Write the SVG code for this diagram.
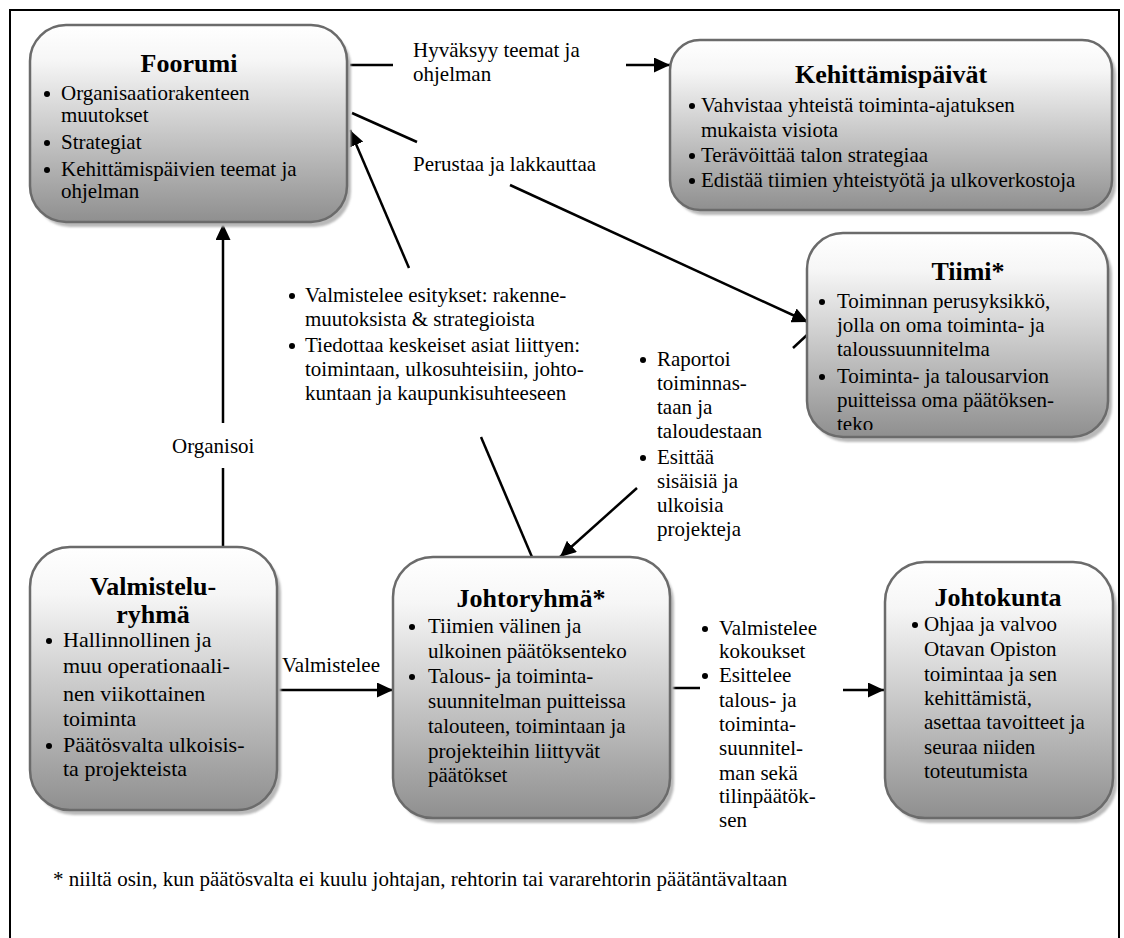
<svg xmlns="http://www.w3.org/2000/svg" width="1124" height="938" viewBox="0 0 1124 938">
  <style>
    text { font-family: "Liberation Serif", "Times New Roman", serif; fill: #000; }
    .title { font-size: 26px; font-weight: bold; text-anchor: middle; }
    .t { font-size: 21px; }
    .box { fill: url(#boxFill); stroke: #6b6b6b; stroke-width: 2.5; }
    .shadow { fill: #b9b9b9; filter: url(#soft); }
    .dot { fill: #000; }
    .conn { stroke: #000; stroke-width: 2.5; fill: none; }
    .arrow { marker-end: url(#head); }
    .frame { stroke: #000; stroke-width: 2; fill: none; }
  </style>
  <defs>
    <linearGradient id="boxFill" x1="0" y1="0" x2="0" y2="1">
      <stop offset="0" stop-color="#ffffff"/>
      <stop offset="0.18" stop-color="#f6f6f6"/>
      <stop offset="1" stop-color="#8f8f8f"/>
    </linearGradient>
    <filter id="soft" x="-5%" y="-5%" width="110%" height="110%">
      <feGaussianBlur stdDeviation="1.2"/>
    </filter>
    <marker id="head" markerUnits="userSpaceOnUse" markerWidth="17" markerHeight="15" refX="16" refY="7.5" orient="auto">
      <path d="M0,0 L16,7.5 L0,15 z" fill="#000"/>
    </marker>
    <clipPath id="tiimiClip">
      <rect x="807" y="233" width="301" height="197"/>
    </clipPath>
  </defs>

  <rect width="1124" height="938" fill="#fff"/>
  <path class="frame" d="M10,938 V10 H1119 V938"/>

  <!-- connectors -->
  <g id="connectors">
    <path class="conn" d="M350,65 H393"/>
    <path class="conn arrow" d="M626,65 H670"/>
    <path class="conn" d="M352,113 L417,142"/>
    <path class="conn arrow" d="M510,185 L808,322"/>
    <path class="conn" d="M807,335 L793,348"/>
    <path class="conn arrow" d="M637,488 L560,557"/>
    <path class="conn" d="M532,557 L481,437"/>
    <path class="conn arrow" d="M409,268 L350,130"/>
    <path class="conn" d="M223,547 V468"/>
    <path class="conn arrow" d="M223,423 V224"/>
    <path class="conn arrow" d="M278,690 H393"/>
    <path class="conn" d="M670,688 H700"/>
    <path class="conn arrow" d="M843,690 H884"/>
  </g>

  <!-- connector labels -->
  <g id="labels">
    <text class="t" x="413" y="57">Hyväksyy teemat ja</text>
    <text class="t" x="413" y="81">ohjelman</text>
    <text class="t" x="413" y="171">Perustaa ja lakkauttaa</text>

    <circle class="dot" cx="292" cy="296" r="3"/>
    <text class="t" x="305" y="302">Valmistelee esitykset: rakenne-</text>
    <text class="t" x="305" y="326">muutoksista &amp; strategioista</text>
    <circle class="dot" cx="292" cy="346" r="3"/>
    <text class="t" x="305" y="352">Tiedottaa keskeiset asiat liittyen:</text>
    <text class="t" x="305" y="376">toimintaan, ulkosuhteisiin, johto-</text>
    <text class="t" x="305" y="400">kuntaan ja kaupunkisuhteeseen</text>

    <circle class="dot" cx="643" cy="360" r="3"/>
    <text class="t" x="657" y="366">Raportoi</text>
    <text class="t" x="657" y="390">toiminnas-</text>
    <text class="t" x="657" y="414">taan ja</text>
    <text class="t" x="657" y="438">taloudestaan</text>
    <circle class="dot" cx="643" cy="458" r="3"/>
    <text class="t" x="657" y="464">Esittää</text>
    <text class="t" x="657" y="488">sisäisiä ja</text>
    <text class="t" x="657" y="512">ulkoisia</text>
    <text class="t" x="657" y="536">projekteja</text>

    <text class="t" x="172" y="453">Organisoi</text>
    <text class="t" x="282" y="672">Valmistelee</text>

    <circle class="dot" cx="705" cy="629" r="3"/>
    <text class="t" x="719" y="635">Valmistelee</text>
    <text class="t" x="719" y="658">kokoukset</text>
    <circle class="dot" cx="705" cy="676" r="3"/>
    <text class="t" x="719" y="682">Esittelee</text>
    <text class="t" x="719" y="707">talous- ja</text>
    <text class="t" x="719" y="731">toiminta-</text>
    <text class="t" x="719" y="755">suunnitel-</text>
    <text class="t" x="719" y="780">man sekä</text>
    <text class="t" x="719" y="803">tilinpäätök-</text>
    <text class="t" x="719" y="827">sen</text>
  </g>

  <!-- Foorumi -->
  <g id="foorumi">
    <rect class="shadow" x="34" y="30" width="317" height="197" rx="36"/>
    <rect class="box" x="30" y="25" width="317" height="197" rx="36"/>
    <text class="title" x="189" y="72">Foorumi</text>
    <circle class="dot" cx="47" cy="94" r="3"/>
    <text class="t" x="61" y="100">Organisaatiorakenteen</text>
    <text class="t" x="61" y="122">muutokset</text>
    <circle class="dot" cx="47" cy="143" r="3"/>
    <text class="t" x="61" y="149">Strategiat</text>
    <circle class="dot" cx="47" cy="170" r="3"/>
    <text class="t" x="61" y="176">Kehittämispäivien teemat ja</text>
    <text class="t" x="61" y="198">ohjelman</text>
  </g>

  <!-- Kehittämispäivät -->
  <g id="kehittamispaivat">
    <rect class="shadow" x="674" y="45" width="442" height="170" rx="30"/>
    <rect class="box" x="670" y="40" width="442" height="170" rx="30"/>
    <text class="title" x="891" y="83">Kehittämispäivät</text>
    <circle class="dot" cx="692" cy="106" r="3"/>
    <text class="t" x="701" y="112">Vahvistaa yhteistä toiminta-ajatuksen</text>
    <text class="t" x="701" y="137">mukaista visiota</text>
    <circle class="dot" cx="692" cy="156" r="3"/>
    <text class="t" x="701" y="162">Terävöittää talon strategiaa</text>
    <circle class="dot" cx="692" cy="181" r="3"/>
    <text class="t" x="701" y="187">Edistää tiimien yhteistyötä ja ulkoverkostoja</text>
  </g>

  <!-- Tiimi -->
  <g id="tiimi">
    <rect class="shadow" x="811" y="238" width="301" height="204" rx="36"/>
    <rect class="box" x="807" y="233" width="301" height="204" rx="36"/>
    <text class="title" x="968" y="280">Tiimi*</text>
    <g clip-path="url(#tiimiClip)">
      <circle class="dot" cx="822" cy="302" r="3"/>
      <text class="t" x="837" y="308">Toiminnan perusyksikkö,</text>
      <text class="t" x="837" y="332">jolla on oma toiminta- ja</text>
      <text class="t" x="837" y="356">taloussuunnitelma</text>
      <circle class="dot" cx="822" cy="377" r="3"/>
      <text class="t" x="837" y="383">Toiminta- ja talousarvion</text>
      <text class="t" x="837" y="407">puitteissa oma päätöksen-</text>
      <text class="t" x="837" y="431">teko</text>
    </g>
  </g>

  <!-- Valmisteluryhmä -->
  <g id="valmisteluryhma">
    <rect class="shadow" x="34" y="552" width="247" height="263" rx="40"/>
    <rect class="box" x="30" y="547" width="247" height="263" rx="40"/>
    <text class="title" x="153" y="595">Valmistelu-</text>
    <text class="title" x="153" y="623">ryhmä</text>
    <circle class="dot" cx="49" cy="641" r="3"/>
    <text class="t" x="63" y="647" style="font-size:22px">Hallinnollinen ja</text>
    <text class="t" x="63" y="673" style="font-size:22px">muu operationaali-</text>
    <text class="t" x="63" y="701" style="font-size:22px">nen viikottainen</text>
    <text class="t" x="63" y="726" style="font-size:22px">toiminta</text>
    <circle class="dot" cx="49" cy="746" r="3"/>
    <text class="t" x="63" y="752" style="font-size:22px">Päätösvalta ulkoisis-</text>
    <text class="t" x="63" y="776" style="font-size:22px">ta projekteista</text>
  </g>

  <!-- Johtoryhmä -->
  <g id="johtoryhma">
    <rect class="shadow" x="397" y="562" width="277" height="261" rx="40"/>
    <rect class="box" x="393" y="557" width="277" height="261" rx="40"/>
    <text class="title" x="531" y="607">Johtoryhmä*</text>
    <circle class="dot" cx="412" cy="627" r="3"/>
    <text class="t" x="428" y="633">Tiimien välinen ja</text>
    <text class="t" x="428" y="658">ulkoinen päätöksenteko</text>
    <circle class="dot" cx="412" cy="677" r="3"/>
    <text class="t" x="428" y="683">Talous- ja toiminta-</text>
    <text class="t" x="428" y="708">suunnitelman puitteissa</text>
    <text class="t" x="428" y="733">talouteen, toimintaan ja</text>
    <text class="t" x="428" y="758">projekteihin liittyvät</text>
    <text class="t" x="428" y="782">päätökset</text>
  </g>

  <!-- Johtokunta -->
  <g id="johtokunta">
    <rect class="shadow" x="889" y="567" width="228" height="256" rx="40"/>
    <rect class="box" x="885" y="562" width="228" height="256" rx="40"/>
    <text class="title" x="998" y="606">Johtokunta</text>
    <circle class="dot" cx="915" cy="625" r="3"/>
    <text class="t" x="924" y="631">Ohjaa ja valvoo</text>
    <text class="t" x="924" y="656">Otavan Opiston</text>
    <text class="t" x="924" y="681">toimintaa ja sen</text>
    <text class="t" x="924" y="705">kehittämistä,</text>
    <text class="t" x="924" y="729">asettaa tavoitteet ja</text>
    <text class="t" x="924" y="754">seuraa niiden</text>
    <text class="t" x="924" y="778">toteutumista</text>
  </g>

  <text class="t" x="53" y="886">* niiltä osin, kun päätösvalta ei kuulu johtajan, rehtorin tai vararehtorin päätäntävaltaan</text>
</svg>
